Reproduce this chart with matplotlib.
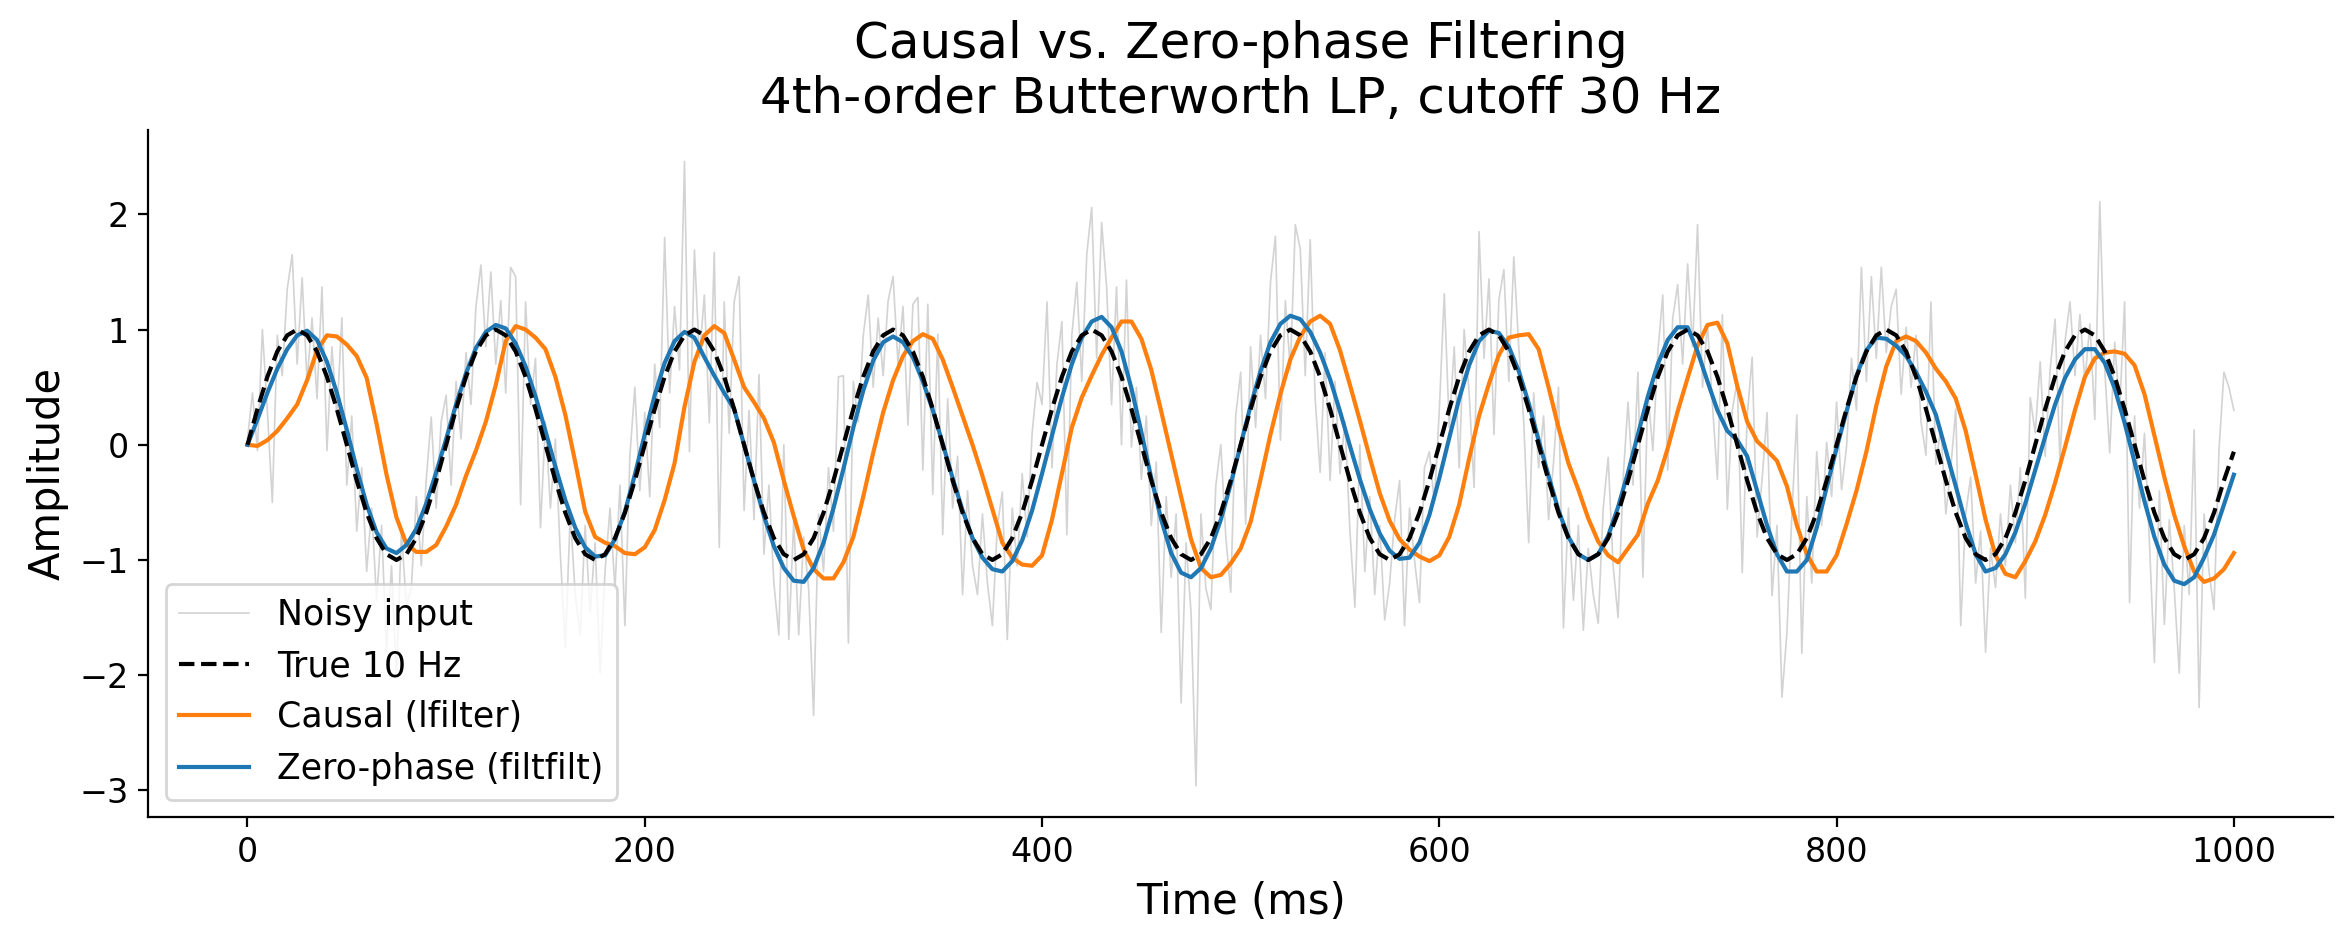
import numpy as np
import matplotlib.pyplot as plt

# sample times in ms (noisy trace read at 2.5 ms, filtered traces at 5 ms)
t_noisy = np.arange(0, 1000.1, 2.5)
t = np.arange(0, 1001, 5)

noisy = [
    0.05, 0.45, -0.05, 1.00, 0.30, -0.50, 0.95, 0.60, 1.35, 1.65, 0.70, 1.45, 0.55, 1.10, 0.40, 1.37, -0.05, 0.85, 0.25, 1.10,
    -0.35, 0.25, -0.75, -0.20, -1.10, -0.55, -1.35, -0.70, -1.80, -1.05, -2.00, -0.75, -1.40, -1.24, -0.45, -1.05, -0.30, 0.24, -0.55, 0.20,
    0.43, -0.35, 0.55, 0.05, 0.80, 0.35, 1.20, 1.56, 0.85, 1.50, 0.70, 1.25, 0.45, 1.54, 1.46, -0.52, 1.24, 0.35, 0.75, -0.72,
    0.20, -0.55, 0.05, -0.95, -1.76, -0.60, -1.30, -1.65, -0.70, -1.45, -0.85, -1.98, -1.10, -0.55, -1.25, -0.35, -1.57, -0.10, 0.50, -0.40,
    0.28, -0.45, 0.70, 0.15, 1.80, 0.45, 1.20, 0.65, 2.46, -0.06, 1.69, 0.75, 1.30, 0.19, 1.67, -0.89, 1.24, 0.10, 1.24, 1.46,
    -0.57, 0.30, -0.65, 0.61, -0.95, -0.35, -1.20, -1.65, 0.00, -1.69, -0.65, -1.65, -0.80, -1.25, -2.35, -0.60, -1.10, -0.20, -0.75, 0.59,
    0.60, -1.72, 0.55, 0.20, 0.95, 1.30, 0.50, 1.10, 0.60, 1.25, 1.46, 0.70, 1.20, 0.17, 1.22, 1.28, -0.22, 1.22, -0.43, 0.96,
    -0.78, 0.40, -0.55, -0.10, -1.30, -0.40, -1.05, -1.30, -0.60, -1.20, -1.57, -0.70, -0.41, -1.69, -0.55, -1.05, -0.25, -0.80, 0.10, 0.54,
    0.35, 1.24, -0.20, 0.70, 1.07, -0.78, 0.95, 1.41, 0.55, 1.65, 2.06, 0.75, 1.93, 1.37, 0.35, 1.37, 0.00, 1.43, -0.02, 0.50,
    -0.30, 0.25, -0.70, -0.15, -1.63, -0.45, -1.15, -0.60, -2.24, -0.85, -1.45, -2.96, -0.60, -1.25, -1.43, -0.35, 0.00, -0.80, -1.28, 0.25,
    0.63, -0.69, 0.85, 0.15, 0.95, 0.40, 1.41, 1.81, 0.04, 1.25, 0.65, 1.91, 1.70, 0.60, 1.78, 0.40, -0.24, 0.80, -0.31, 0.55,
    -0.25, 0.20, -0.75, -1.41, 0.00, -1.10, -0.45, -1.30, -0.70, -1.52, -1.20, -0.65, -0.31, -1.57, -0.55, -1.00, -1.37, -0.20, -0.06, -0.50,
    0.30, 1.31, 0.15, 0.85, -0.20, 1.00, 0.45, -0.37, 1.85, 0.75, 1.44, 0.09, 1.26, 1.52, 0.55, 1.63, 0.85, 0.20, -0.85, 0.45,
    -0.20, 0.25, -0.65, -0.15, 0.50, -1.59, -0.55, -1.35, -0.70, -1.61, -0.90, -1.30, -1.55, -0.55, -0.11, -1.05, -1.50, -0.30, 0.37, -0.35,
    0.63, -1.15, 0.45, -0.05, 0.80, 1.30, -0.22, 1.10, 1.39, 0.70, 1.57, 0.85, 1.91, 0.50, 1.05, 0.35, -0.30, 1.13, -0.56, 0.30,
    0.56, -1.11, 0.25, 0.76, -0.80, -0.30, 0.28, -1.31, -0.70, -2.19, -1.63, -0.60, 0.26, -1.81, -0.45, -1.20, -0.06, -0.70, 0.02, -0.45,
    0.37, -0.39, -0.02, 0.75, 0.30, 1.54, 0.55, 1.46, 0.75, 1.54, 0.80, 1.20, 1.35, 0.44, 1.02, 0.50, 0.95, 0.20, -0.09, 1.24,
    -0.17, 0.15, -0.60, -0.20, 0.31, -1.57, -0.60, -0.28, -1.20, -0.75, -1.80, -0.90, -1.24, -0.60, -1.05, -0.35, -0.85, -0.20, -1.33, 0.41,
    0.10, 0.72, -0.10, 0.65, 1.09, -0.17, 0.90, 1.24, 0.60, 1.13, 0.55, 1.05, 0.22, 2.11, 0.65, -0.07, 0.89, 0.30, 1.24, -1.37,
    0.25, -0.55, 0.10, -0.85, -1.89, -0.40, -1.56, -0.65, -1.25, -1.98, -0.70, -1.30, 0.13, -2.28, -0.60, -1.10, -1.43, -0.05, 0.63, 0.50,
    0.30,
]

true_10hz = [
    0.00, 0.31, 0.59, 0.81, 0.95, 1.00, 0.95, 0.81, 0.59, 0.31, 0.00, -0.31, -0.59, -0.81, -0.95, -1.00, -0.95, -0.81, -0.59, -0.31,
    0.00, 0.31, 0.59, 0.81, 0.95, 1.00, 0.95, 0.81, 0.59, 0.31, 0.00, -0.31, -0.59, -0.81, -0.95, -1.00, -0.95, -0.81, -0.59, -0.31,
    0.00, 0.31, 0.59, 0.81, 0.95, 1.00, 0.95, 0.81, 0.59, 0.31, 0.00, -0.31, -0.59, -0.81, -0.95, -1.00, -0.95, -0.81, -0.59, -0.31,
    0.00, 0.31, 0.59, 0.81, 0.95, 1.00, 0.95, 0.81, 0.59, 0.31, 0.00, -0.31, -0.59, -0.81, -0.95, -1.00, -0.95, -0.81, -0.59, -0.31,
    0.00, 0.31, 0.59, 0.81, 0.95, 1.00, 0.95, 0.81, 0.59, 0.31, 0.00, -0.31, -0.59, -0.81, -0.95, -1.00, -0.95, -0.81, -0.59, -0.31,
    0.00, 0.31, 0.59, 0.81, 0.95, 1.00, 0.95, 0.81, 0.59, 0.31, 0.00, -0.31, -0.59, -0.81, -0.95, -1.00, -0.95, -0.81, -0.59, -0.31,
    0.00, 0.31, 0.59, 0.81, 0.95, 1.00, 0.95, 0.81, 0.59, 0.31, 0.00, -0.31, -0.59, -0.81, -0.95, -1.00, -0.95, -0.81, -0.59, -0.31,
    0.00, 0.31, 0.59, 0.81, 0.95, 1.00, 0.95, 0.81, 0.59, 0.31, 0.00, -0.31, -0.59, -0.81, -0.95, -1.00, -0.95, -0.81, -0.59, -0.31,
    0.00, 0.31, 0.59, 0.81, 0.95, 1.00, 0.95, 0.81, 0.59, 0.31, 0.00, -0.31, -0.59, -0.81, -0.95, -1.00, -0.95, -0.81, -0.59, -0.31,
    0.00, 0.31, 0.59, 0.81, 0.95, 1.00, 0.95, 0.81, 0.59, 0.31, 0.00, -0.31, -0.59, -0.81, -0.95, -1.00, -0.95, -0.81, -0.59, -0.31,
    -0.06,
]

causal = [
    0.00, -0.01, 0.04, 0.12, 0.23, 0.35, 0.56, 0.82, 0.95, 0.94, 0.87, 0.77, 0.58, 0.18, -0.26, -0.63, -0.86, -0.93, -0.93, -0.87,
    -0.71, -0.52, -0.27, -0.05, 0.20, 0.52, 0.90, 1.03, 1.00, 0.93, 0.83, 0.59, 0.26, -0.15, -0.58, -0.80, -0.85, -0.88, -0.94, -0.95,
    -0.89, -0.74, -0.48, -0.16, 0.33, 0.72, 0.95, 1.03, 0.97, 0.74, 0.50, 0.37, 0.23, 0.02, -0.31, -0.62, -0.91, -1.08, -1.16, -1.16,
    -1.02, -0.80, -0.45, -0.07, 0.28, 0.56, 0.77, 0.90, 0.96, 0.92, 0.74, 0.50, 0.25, 0.00, -0.27, -0.56, -0.85, -0.98, -1.04, -1.05,
    -0.96, -0.65, -0.25, 0.15, 0.41, 0.60, 0.78, 0.93, 1.07, 1.07, 0.92, 0.65, 0.29, -0.08, -0.45, -0.82, -1.07, -1.15, -1.13, -1.03,
    -0.90, -0.67, -0.30, 0.09, 0.44, 0.74, 0.94, 1.07, 1.12, 1.05, 0.82, 0.52, 0.21, -0.11, -0.42, -0.66, -0.82, -0.91, -0.97, -1.01,
    -0.96, -0.80, -0.52, -0.12, 0.25, 0.53, 0.78, 0.93, 0.95, 0.96, 0.83, 0.50, 0.15, -0.16, -0.39, -0.64, -0.84, -0.96, -1.02, -0.90,
    -0.78, -0.51, -0.31, -0.03, 0.29, 0.58, 0.86, 1.04, 1.06, 0.88, 0.51, 0.20, 0.03, -0.05, -0.14, -0.36, -0.70, -0.95, -1.10, -1.10,
    -0.96, -0.69, -0.40, -0.06, 0.34, 0.68, 0.90, 0.94, 0.90, 0.80, 0.66, 0.55, 0.40, 0.12, -0.26, -0.65, -0.96, -1.12, -1.15, -1.01,
    -0.84, -0.61, -0.33, -0.02, 0.30, 0.59, 0.75, 0.80, 0.81, 0.79, 0.69, 0.44, 0.08, -0.28, -0.61, -0.88, -1.10, -1.19, -1.16, -1.08,
    -0.94,
]

zero_phase = [
    0.00, 0.22, 0.45, 0.66, 0.83, 0.95, 0.99, 0.91, 0.72, 0.45, 0.13, -0.21, -0.52, -0.76, -0.90, -0.94, -0.87, -0.73, -0.51, -0.24,
    0.05, 0.35, 0.62, 0.84, 0.98, 1.04, 1.01, 0.88, 0.68, 0.42, 0.12, -0.19, -0.48, -0.72, -0.89, -0.97, -0.96, -0.82, -0.58, -0.26,
    0.09, 0.43, 0.71, 0.90, 0.98, 0.93, 0.76, 0.60, 0.45, 0.31, 0.00, -0.31, -0.62, -0.88, -1.07, -1.18, -1.19, -1.07, -0.85, -0.55,
    -0.21, 0.15, 0.47, 0.73, 0.89, 0.94, 0.89, 0.76, 0.55, 0.30, 0.01, -0.29, -0.57, -0.81, -0.98, -1.08, -1.10, -1.01, -0.83, -0.57,
    -0.25, 0.08, 0.41, 0.70, 0.93, 1.07, 1.11, 1.02, 0.81, 0.49, 0.11, -0.29, -0.65, -0.94, -1.11, -1.15, -1.07, -0.90, -0.65, -0.34,
    0.00, 0.34, 0.64, 0.89, 1.05, 1.12, 1.09, 0.98, 0.80, 0.57, 0.29, -0.01, -0.30, -0.56, -0.77, -0.92, -0.99, -0.98, -0.85, -0.61,
    -0.29, 0.06, 0.40, 0.69, 0.90, 0.99, 0.97, 0.85, 0.64, 0.36, 0.04, -0.27, -0.57, -0.80, -0.95, -1.00, -0.95, -0.79, -0.54, -0.24,
    0.09, 0.42, 0.70, 0.91, 1.02, 1.02, 0.81, 0.55, 0.30, 0.12, 0.04, -0.10, -0.40, -0.70, -0.95, -1.10, -1.10, -1.00, -0.72, -0.37,
    -0.03, 0.29, 0.60, 0.82, 0.93, 0.92, 0.86, 0.77, 0.63, 0.46, 0.26, -0.05, -0.36, -0.68, -0.95, -1.10, -1.07, -0.95, -0.76, -0.51,
    -0.22, 0.07, 0.35, 0.58, 0.74, 0.83, 0.83, 0.71, 0.49, 0.19, -0.15, -0.49, -0.80, -1.04, -1.18, -1.21, -1.15, -0.98, -0.78, -0.52,
    -0.26,
]

fig, ax = plt.subplots(figsize=(11.76, 4.75), dpi=200)

ax.plot(t_noisy, noisy, color='lightgray', lw=0.6, label='Noisy input')
ax.plot(t, true_10hz, 'k--', lw=1.5, label='True 10 Hz', zorder=4)
ax.plot(t, causal, color='tab:orange', lw=1.5, label='Causal (lfilter)')
ax.plot(t, zero_phase, color='tab:blue', lw=1.5, label='Zero-phase (filtfilt)')

ax.set_title('Causal vs. Zero-phase Filtering\n4th-order Butterworth LP, cutoff 30 Hz', fontsize=18)
ax.set_xlabel('Time (ms)', fontsize=15)
ax.set_ylabel('Amplitude', fontsize=15)
ax.tick_params(labelsize=12)
ax.legend(loc='lower left', fontsize=12.5)
ax.spines[['top', 'right']].set_visible(False)

fig.subplots_adjust(left=0.063, right=0.992, bottom=0.14, top=0.863)
fig.savefig('out.png', dpi=200)
